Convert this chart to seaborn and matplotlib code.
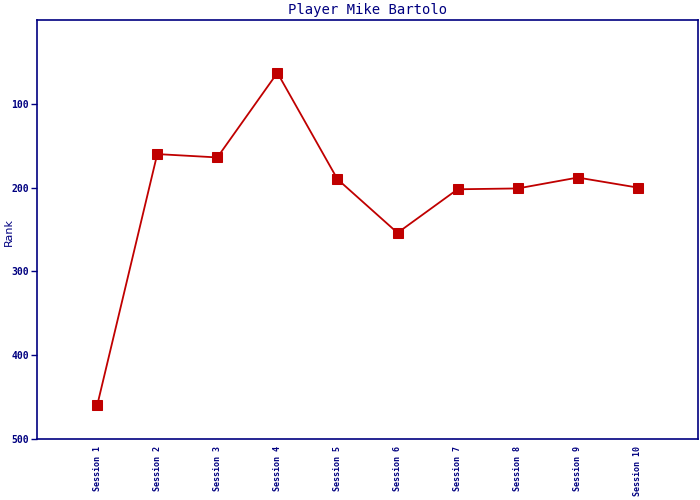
import matplotlib
matplotlib.use("Agg")
import matplotlib.pyplot as plt
import seaborn as sns
import pandas as pd

sessions = ["Session %d" % i for i in range(1, 11)]
ranks = [460, 160, 164, 63, 190, 254, 202, 201, 188, 200]

navy = "#000080"
red = "#c00000"

sns.set_style("white")
plt.rcParams['font.family'] = ['DejaVu Sans Mono', 'DejaVu Sans']

df = pd.DataFrame({"session": sessions, "rank": ranks})

fig = plt.figure(figsize=(7, 5), dpi=100)
ax = fig.add_axes([0.053, 0.122, 0.944, 0.838])
sns.lineplot(data=df, x="session", y="rank", ax=ax, color=red, lw=1.3,
             marker="s", markersize=7, markeredgecolor=red, sort=False)

ax.set_xlim(-1, 10)
ax.set_ylim(500, 0)
ax.set_yticks([100, 200, 300, 400, 500])
ax.tick_params(axis="y", direction="out", length=4, width=1, color=navy,
               labelcolor=navy, labelsize=7, left=True, pad=2)
ax.tick_params(axis="x", length=0, labelcolor=navy, labelsize=6, rotation=90, pad=5)
for t in ax.get_yticklabels() + ax.get_xticklabels():
    t.set_fontweight("bold")
for s in ax.spines.values():
    s.set_color(navy)
    s.set_linewidth(1.2)

ax.set_xlabel("")
ax.set_ylabel("")
fig.text(0.013, 0.535, "Rank", color=navy, fontsize=8, family="DejaVu Sans",
         rotation=90, ha="center", va="center")
ax.set_title("Player Mike Bartolo", color=navy, fontsize=10, pad=4)

fig.savefig("out.png", dpi=100)
